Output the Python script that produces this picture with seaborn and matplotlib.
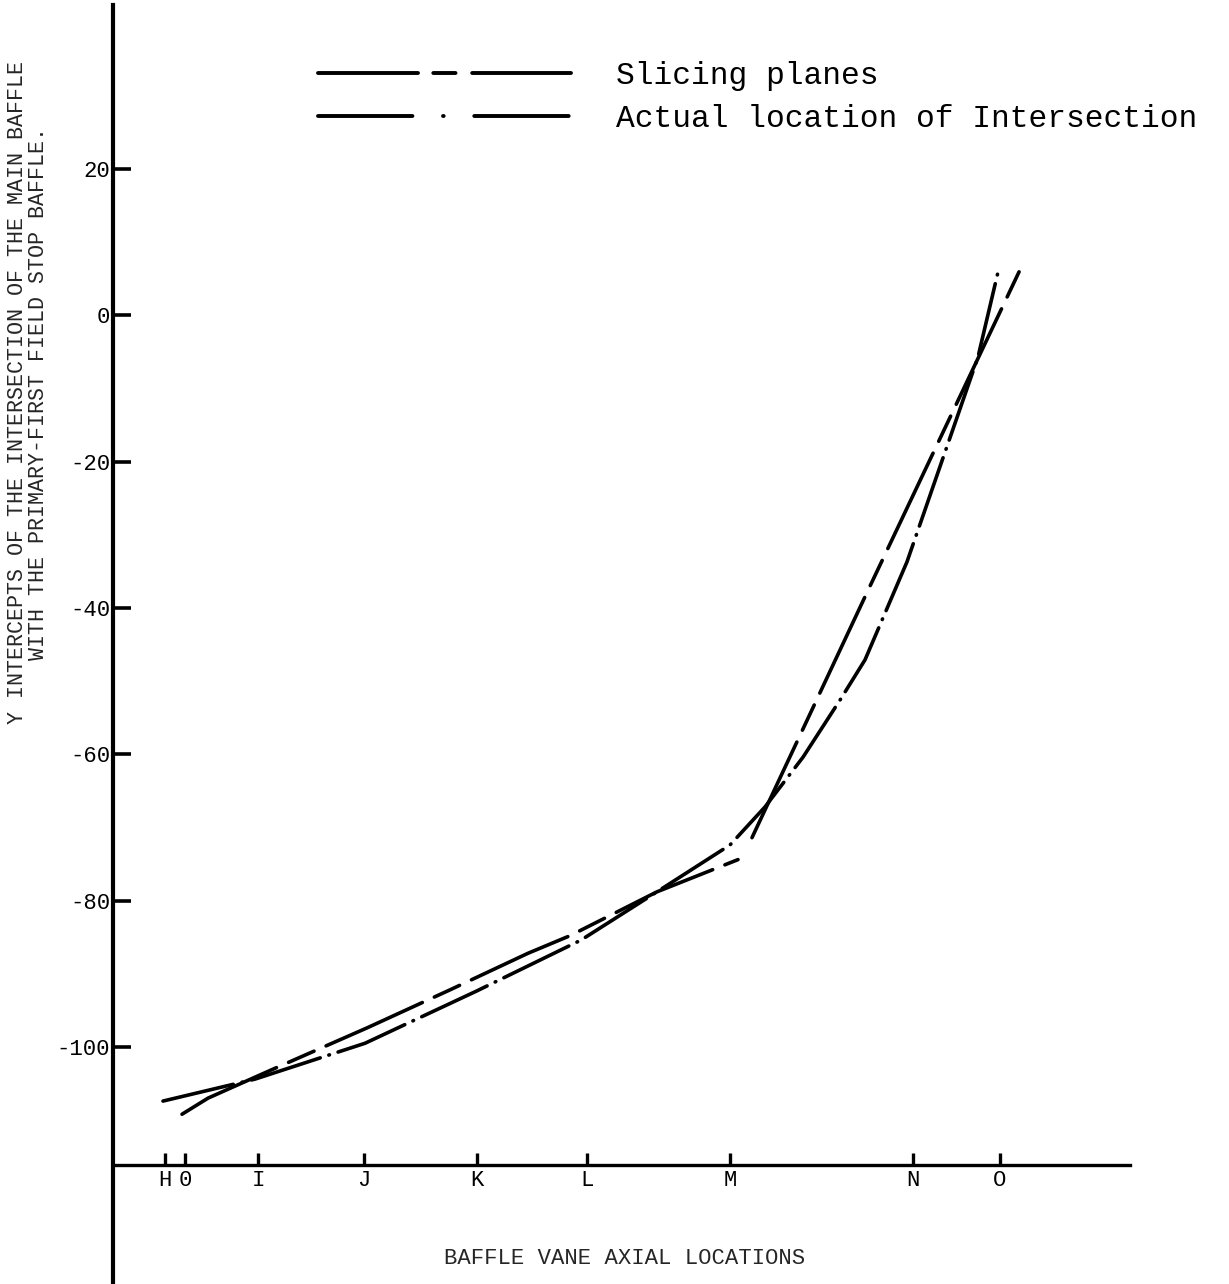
import numpy as np
import pandas as pd
import matplotlib
matplotlib.use("Agg")
import matplotlib.pyplot as plt
from matplotlib.lines import Line2D
import seaborn as sns

# ---------------- data ----------------
station_labels = ["H", "0", "I", "J", "K", "L", "M", "N", "O"]
station_pos = [52, 72, 145, 251, 364, 474, 617, 800, 887]

y_ticks = [20, 0, -20, -40, -60, -80, -100]
y_tick_labels = ["20", "0", "-20", "-40", "-60", "-80", "-100"]

# Slicing planes (two separate segments)
slice_x1 = [69, 95, 159, 254, 337, 415, 457, 544, 625]
slice_y1 = [-109.2, -107.0, -103.1, -97.4, -92.2, -87.2, -84.8, -78.8, -74.4]
slice_x2 = [639, 755, 907]
slice_y2 = [-71.4, -37.6, 6.2]

# Actual location of intersection
actual_x = [50, 142, 252, 363, 468, 544, 617, 652, 690, 727, 752, 794, 865, 885]
actual_y = [-107.4, -104.4, -99.5, -92.4, -85.4, -78.8, -72.4, -67.2, -60.4,
            -52.6, -47.1, -33.7, -5.7, 5.9]

series_names = ["Slicing planes", "Actual location of Intersection"]
x_axis_level = -116.1

# ---------------- build table ----------------
frames = [
    pd.DataFrame({"x": slice_x1, "y": slice_y1, "series": series_names[0], "seg": "s1"}),
    pd.DataFrame({"x": slice_x2, "y": slice_y2, "series": series_names[0], "seg": "s2"}),
    pd.DataFrame({"x": actual_x, "y": actual_y, "series": series_names[1], "seg": "a1"}),
]
df = pd.concat(frames, ignore_index=True)

# ---------------- style ----------------
sns.set_theme(style="white")
plt.rcParams["font.family"] = ["Liberation Mono", "DejaVu Sans"]
plt.rcParams["lines.scale_dashes"] = False
plt.rcParams["lines.dash_capstyle"] = "round"
plt.rcParams["lines.solid_capstyle"] = "round"

fig = plt.figure(figsize=(12.29, 12.84), dpi=100)
ax = fig.add_axes([113 / 1229, 0.0, 1017 / 1229, (1284 - 5) / 1284])

plot_dashes = {series_names[0]: (76, 9.5, 20, 9.5),
               series_names[1]: (52, 6.5, 0.5, 6.5)}

sns.lineplot(data=df, x="x", y="y", style="series", units="seg",
             estimator=None, sort=False, dashes=plot_dashes,
             color="black", lw=2.6, legend=False, ax=ax)

ax.set_xlim(0, 1017)
ax.set_ylim(-132.4, 42.4)

# spines
for s in ["top", "right"]:
    ax.spines[s].set_visible(False)
ax.spines["left"].set_linewidth(3.0)
ax.spines["left"].set_color("black")
ax.spines["bottom"].set_position(("data", x_axis_level))
ax.spines["bottom"].set_linewidth(2.4)
ax.spines["bottom"].set_color("black")

ax.set_xticks(station_pos)
ax.set_xticklabels(station_labels, fontsize=16)
ax.set_yticks(y_ticks)
ax.set_yticklabels(y_tick_labels, fontsize=16)
ax.tick_params(axis="x", which="major", bottom=True, direction="in",
               length=9, width=2.4, pad=4, colors="black")
ax.tick_params(axis="y", which="major", left=True, direction="in",
               length=13, width=2.6, pad=2, colors="black")
ax.grid(False)

ax.set_xlabel("BAFFLE VANE AXIAL LOCATIONS", fontsize=16)
ax.xaxis.label.set_va("center")
ax.xaxis.set_label_coords((625 - 113) / 1017, (1284 - 1258) / 1279)
ax.set_ylabel("Y INTERCEPTS OF THE INTERSECTION OF THE MAIN BAFFLE\n"
              "WITH THE PRIMARY-FIRST FIELD STOP BAFFLE.",
              fontsize=15.6, linespacing=1.0, multialignment="center")
ax.yaxis.label.set_va("center")
ax.yaxis.set_label_coords((28 - 113) / 1017, (1284 - 393) / 1279)

# legend
handles = [Line2D([0], [0], color="black", lw=2.8, dashes=(72, 11, 16, 12)),
           Line2D([0], [0], color="black", lw=2.8, dashes=(68, 22, 0.5, 22))]
leg = ax.legend(handles, series_names, loc="upper left",
                bbox_to_anchor=(318 / 1229, 1 - 61 / 1284),
                bbox_transform=fig.transFigure, frameon=False,
                prop={"family": "Liberation Mono", "size": 22.5},
                handlelength=8.1, handletextpad=1.45, labelspacing=0.42,
                borderpad=0, borderaxespad=0)
for t in leg.get_texts():
    t.set_color("black")

fig.savefig("out.png", dpi=100, facecolor="white")
